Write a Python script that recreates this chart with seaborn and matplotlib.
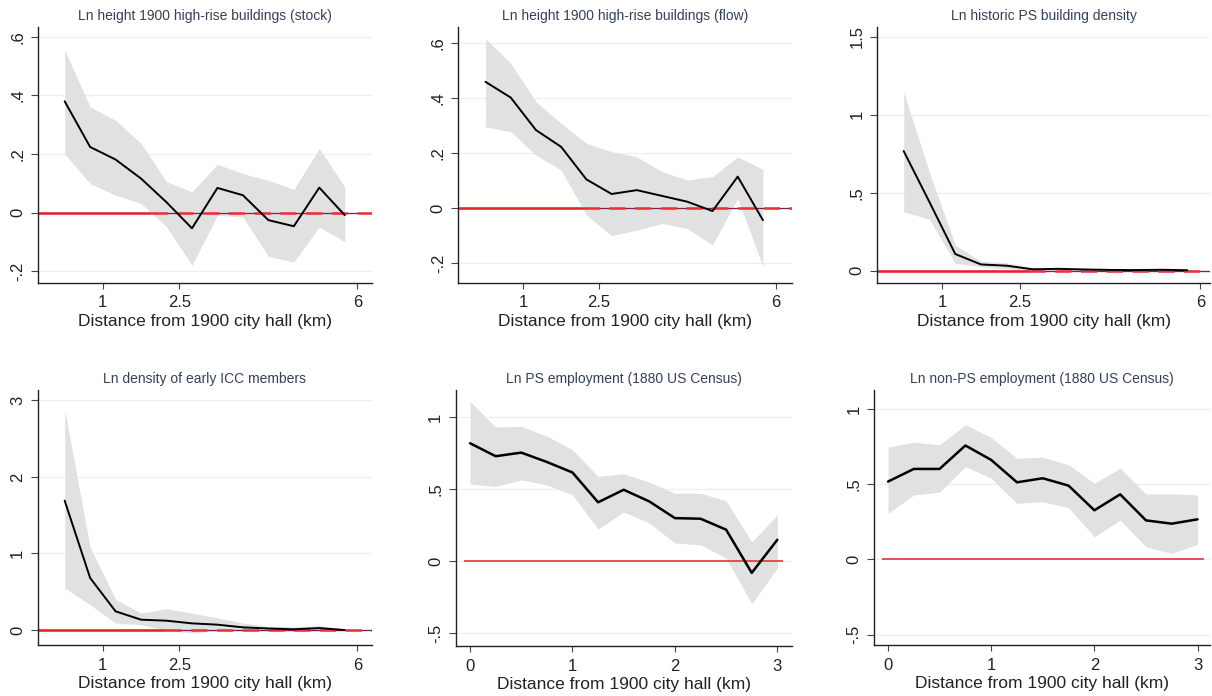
import matplotlib
matplotlib.use("Agg")
import matplotlib.pyplot as plt
import pandas as pd
import seaborn as sns

# distance bins (km from 1900 city hall)
dist_long = [0.25, 0.75, 1.25, 1.75, 2.25, 2.75, 3.25, 3.75, 4.25, 4.75, 5.25, 5.75]
dist_short = [0.0, 0.25, 0.5, 0.75, 1.0, 1.25, 1.5, 1.75, 2.0, 2.25, 2.5, 2.75, 3.0]

# Ln height 1900 high-rise buildings (stock)
stock_est = [0.38, 0.224, 0.181, 0.116, 0.035, -0.054, 0.084, 0.059, -0.026, -0.047, 0.085, -0.009]
stock_hi = [0.555, 0.361, 0.315, 0.236, 0.105, 0.071, 0.165, 0.133, 0.11, 0.079, 0.219, 0.088]
stock_lo = [0.2, 0.099, 0.059, 0.031, -0.049, -0.18, -0.01, -0.015, -0.15, -0.169, -0.049, -0.1]

# Ln height 1900 high-rise buildings (flow)
flow_est = [0.458, 0.401, 0.283, 0.222, 0.104, 0.051, 0.065, 0.044, 0.023, -0.011, 0.114, -0.044]
flow_hi = [0.615, 0.525, 0.386, 0.307, 0.235, 0.204, 0.186, 0.132, 0.102, 0.114, 0.186, 0.14]
flow_lo = [0.295, 0.277, 0.192, 0.138, -0.025, -0.10, -0.08, -0.056, -0.074, -0.134, 0.035, -0.213]

# Ln historic PS building density
hist_est = [0.767, 0.44, 0.107, 0.04, 0.032, 0.009, 0.012, 0.008, 0.005, 0.004, 0.006, 0.003]
hist_hi = [1.147, 0.63, 0.165, 0.06, 0.05, 0.02, 0.018, 0.014, 0.01, 0.009, 0.012, 0.008]
hist_lo = [0.378, 0.33, 0.047, 0.025, 0.012, -0.002, 0.004, 0.002, 0.0, -0.001, 0.0, -0.002]

# Ln density of early ICC members
icc_est = [1.69, 0.68, 0.244, 0.135, 0.122, 0.087, 0.07, 0.035, 0.02, 0.01, 0.025, 0.0]
icc_hi = [2.88, 1.08, 0.40, 0.22, 0.28, 0.22, 0.16, 0.09, 0.05, 0.04, 0.06, 0.01]
icc_lo = [0.55, 0.33, 0.09, 0.07, -0.005, -0.04, -0.01, -0.01, -0.01, -0.015, -0.01, -0.01]

# Ln PS employment (1880 US Census)
ps_est = [0.82, 0.73, 0.755, 0.69, 0.617, 0.41, 0.497, 0.416, 0.30, 0.296, 0.22, -0.08, 0.15]
ps_hi = [1.11, 0.933, 0.938, 0.87, 0.774, 0.59, 0.607, 0.55, 0.473, 0.473, 0.42, 0.134, 0.323]
ps_lo = [0.536, 0.52, 0.566, 0.53, 0.462, 0.224, 0.342, 0.266, 0.127, 0.115, 0.023, -0.295, -0.046]

# Ln non-PS employment (1880 US Census)
nonps_est = [0.518, 0.602, 0.602, 0.758, 0.662, 0.513, 0.54, 0.491, 0.327, 0.433, 0.26, 0.238, 0.267]
nonps_hi = [0.747, 0.78, 0.762, 0.896, 0.811, 0.673, 0.68, 0.629, 0.507, 0.607, 0.436, 0.436, 0.429]
nonps_lo = [0.307, 0.429, 0.447, 0.618, 0.54, 0.373, 0.384, 0.344, 0.151, 0.262, 0.084, 0.04, 0.1]

titles = [
    "Ln height 1900 high-rise buildings (stock)",
    "Ln height 1900 high-rise buildings (flow)",
    "Ln historic PS building density",
    "Ln density of early ICC members",
    "Ln PS employment (1880 US Census)",
    "Ln non-PS employment (1880 US Census)",
]
xlabel = "Distance from 1900 city hall (km)"

xticks_long = [1, 2.5, 6]
xticks_short = [0, 1, 2, 3]
yticks_small = [-0.2, 0, 0.2, 0.4, 0.6]
ylabels_small = ["-.2", "0", ".2", ".4", ".6"]
yticks_hist = [0, 0.5, 1, 1.5]
ylabels_hist = ["0", ".5", "1", "1.5"]
yticks_icc = [0, 1, 2, 3]
ylabels_icc = ["0", "1", "2", "3"]
yticks_emp = [-0.5, 0, 0.5, 1]
ylabels_emp = ["-.5", "0", ".5", "1"]

sns.set_theme(style="white")
plt.rcParams["font.family"] = ["Liberation Sans", "DejaVu Sans"]

fig = plt.figure(figsize=(12.12, 6.96), dpi=100)

# (x, est, hi, lo, xticks, yticks, ylabels, xlim, ylim, axes rect, sig-style zero line)
panels = [
    (dist_long, stock_est, stock_hi, stock_lo, xticks_long, yticks_small, ylabels_small,
     (-0.28, 6.28), (-0.24, 0.635), [0.0311, 0.5938, 0.2756, 0.3678], True),
    (dist_long, flow_est, flow_hi, flow_lo, xticks_long, yticks_small, ylabels_small,
     (-0.29, 6.32), (-0.271, 0.658), [0.3781, 0.5938, 0.2751, 0.3678], True),
    (dist_long, hist_est, hist_hi, hist_lo, xticks_long, yticks_hist, ylabels_hist,
     (-0.26, 6.19), (-0.077, 1.564), [0.7239, 0.5938, 0.2745, 0.3678], True),
    (dist_long, icc_est, icc_hi, icc_lo, xticks_long, yticks_icc, ylabels_icc,
     (-0.28, 6.28), (-0.2, 3.14), [0.0311, 0.0728, 0.2756, 0.3673], True),
    (dist_short, ps_est, ps_hi, ps_lo, xticks_short, yticks_emp, ylabels_emp,
     (-0.14, 3.14), (-0.59, 1.19), [0.3760, 0.0714, 0.2772, 0.3683], False),
    (dist_short, nonps_est, nonps_hi, nonps_lo, xticks_short, yticks_emp, ylabels_emp,
     (-0.136, 3.12), (-0.571, 1.129), [0.7211, 0.0728, 0.2772, 0.3673], False),
]

for title, (x, est, hi, lo, xt, yt, yl, xlim, ylim, rect, sig) in zip(titles, panels):
    ax = fig.add_axes(rect)
    df = pd.DataFrame({"dist": x, "est": est, "hi": hi, "lo": lo})

    ax.set_xlim(*xlim)
    ax.set_ylim(*ylim)
    for t in yt:
        ax.axhline(t, color="#eceef1", lw=0.9, zorder=0)

    ax.fill_between(df["dist"], df["lo"], df["hi"], color="#e1e1e1", lw=0, zorder=1)

    if sig:
        # thin zero line, thick red solid while CI excludes zero, dashed after
        ax.axhline(0, color="#7a2050", lw=0.9, zorder=1.5)
        xc = xlim[1]
        for i in range(1, len(lo)):
            if lo[i] <= 0 < lo[i - 1]:
                xc = x[i - 1] + (x[i] - x[i - 1]) * lo[i - 1] / (lo[i - 1] - lo[i])
                break
        ax.plot([xlim[0], xc], [0, 0], color="#e8202a", lw=1.8, solid_capstyle="butt", zorder=2)
        ax.plot([xc, xlim[1]], [0, 0], color="#ec3038", lw=1.8, linestyle=(0, (6.5, 3.8)),
                dash_capstyle="butt", zorder=2)
        lw = 1.4
    else:
        ax.hlines(0, -0.06, 3.06, color="#e8202a", lw=1.1, zorder=2)
        lw = 1.8

    sns.lineplot(data=df, x="dist", y="est", color="black", lw=lw, ax=ax, zorder=3)

    ax.set_xticks(xt)
    ax.set_xticklabels([f"{v:g}" for v in xt])
    ax.set_yticks(yt)
    ax.set_yticklabels(yl, rotation=90, va="center")
    ax.tick_params(axis="x", direction="out", length=4, width=0.8, pad=5,
                   labelsize=12, bottom=True)
    ax.tick_params(axis="y", direction="out", length=5, width=0.8, pad=4,
                   labelsize=12, left=True)
    ax.tick_params(axis="both", labelcolor="#222222", color="#444444")

    for s in ["top", "right"]:
        ax.spines[s].set_visible(False)
    for s in ["left", "bottom"]:
        ax.spines[s].set_color("#222222")
        ax.spines[s].set_linewidth(1.0)

    ax.set_title(title, fontsize=10, color="#34405a", pad=5)
    ax.set_xlabel(xlabel, fontsize=12.5, color="#222222", labelpad=2.5)
    ax.set_ylabel("")
    ax.grid(False)

fig.savefig("out.png", dpi=100, facecolor="white")
